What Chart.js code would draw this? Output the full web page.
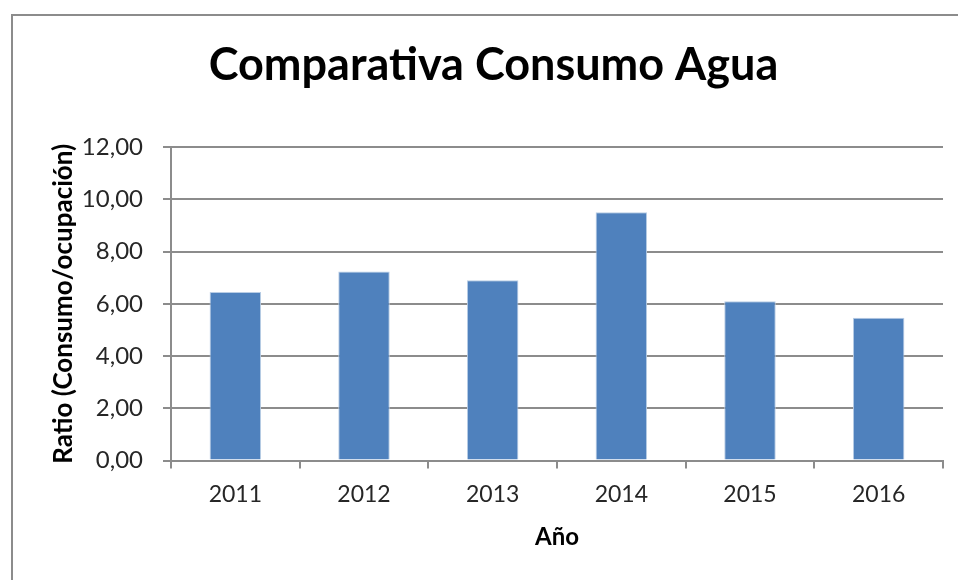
<!DOCTYPE html>
<html lang="es">
<head>
  <meta charset="UTF-8">
  <title>Comparativa Consumo Agua</title>
  <script src="https://cdn.jsdelivr.net/npm/chart.js"></script>
  <style>
    body { margin: 0; background: #fff; }
    #wrap { position: relative; width: 958px; height: 580px; overflow: hidden; }
    #frame { position: absolute; left: 11px; top: 14px; width: 1200px; height: 1200px; border: 2px solid #8c8c8c; }
    canvas { position: absolute; left: 0; top: 0; }
  </style>
</head>
<body>
  <div id="wrap">
    <div id="frame"></div>
    <canvas id="waterChart" width="958" height="580"></canvas>
  </div>
  <script>
    const years = ['2011', '2012', '2013', '2014', '2015', '2016'];
    const ratios = [6.45, 7.24, 6.90, 9.50, 6.10, 5.47];
    const yMin = 0;
    const yMax = 12;
    const yStep = 2;

    const fontFamily = 'Lato, "Open Sans", sans-serif';
    const gridGrey = '#8c8c8c';

    const ctx = document.getElementById('waterChart').getContext('2d');
    const waterChart = new Chart(ctx, {
      type: 'bar',
      data: {
        labels: years,
        datasets: [{
          label: 'Ratio',
          data: ratios,
          backgroundColor: '#4f81bd',
          borderColor: '#b9cde5',
          borderWidth: 1,
          barPercentage: 0.4,
          categoryPercentage: 1
        }]
      },
      options: {
        responsive: false,
        animation: false,
        layout: { padding: { left: 44, right: 15, top: 20, bottom: 24 } },
        plugins: {
          legend: { display: false },
          tooltip: { enabled: false },
          title: {
            display: true,
            text: 'Comparativa Consumo Agua',
            color: '#000',
            font: { family: fontFamily, size: 45, weight: 'bold' },
            padding: { top: 18, bottom: 55 }
          }
        },
        scales: {
          x: {
            grid: { drawOnChartArea: false, drawTicks: true, tickLength: 8, color: gridGrey, lineWidth: 2 },
            border: { color: gridGrey, width: 2 },
            ticks: { color: '#262626', padding: 12, font: { family: fontFamily, size: 23 } },
            title: {
              display: true,
              text: 'Año',
              color: '#000',
              font: { family: fontFamily, size: 24, weight: 'bold' },
              padding: { top: 3, bottom: 4 }
            }
          },
          y: {
            min: yMin,
            max: yMax,
            afterFit: scale => { scale.width = 127; },
            grid: { color: gridGrey, lineWidth: 2, tickLength: 8 },
            border: { color: gridGrey, width: 2 },
            ticks: {
              stepSize: yStep,
              color: '#262626',
              padding: 20,
              font: { family: fontFamily, size: 24 },
              callback: v => v.toFixed(2).replace('.', ',')
            },
            title: {
              display: true,
              text: 'Ratio (Consumo/ocupación)',
              color: '#000',
              font: { family: fontFamily, size: 26, weight: 'bold' },
              padding: { top: 4, bottom: 4 }
            }
          }
        }
      }
    });
  </script>
</body>
</html>
